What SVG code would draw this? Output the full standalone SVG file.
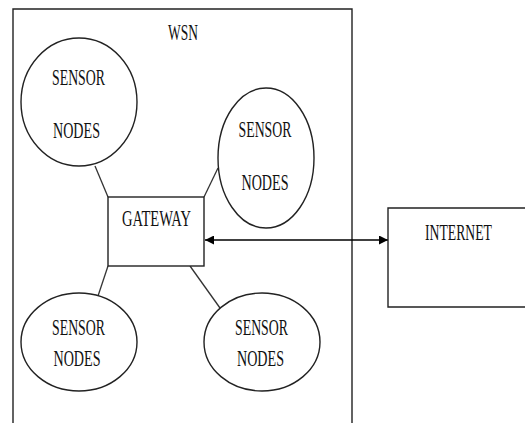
<svg xmlns="http://www.w3.org/2000/svg" width="525" height="423" viewBox="0 0 525 423">
<defs>
<style>
.t{font-family:"Liberation Serif","Times New Roman",serif;font-size:23px;fill:#111;text-anchor:middle}
.s{fill:#fff;stroke:#222;stroke-width:1.4}
.o{fill:none;stroke:#222;stroke-width:1.4}
.c{stroke:#333;stroke-width:1.3;fill:none}
</style>
<marker id="ah" viewBox="0 0 10 10" refX="10" refY="5" markerWidth="9" markerHeight="9" markerUnits="userSpaceOnUse" orient="auto-start-reverse">
<path d="M0,0 L10,5 L0,10 z" fill="#000"/>
</marker>
</defs>
<rect width="525" height="423" fill="#fff"/>
<g id="wsn">
<path d="M13,423 L13,9 L352,9 L352,423" class="o"/>
<text class="t" x="183" y="40" textLength="30" lengthAdjust="spacingAndGlyphs">WSN</text>
</g>
<g id="connectors">
<line class="c" x1="95" y1="166" x2="108" y2="197"/>
<line class="c" x1="218" y1="168" x2="204" y2="197"/>
<line class="c" x1="108" y1="266" x2="98" y2="296"/>
<line class="c" x1="190" y1="266" x2="220" y2="308"/>
<line x1="205" y1="240" x2="388" y2="240" stroke="#000" stroke-width="1.5" marker-start="url(#ah)" marker-end="url(#ah)"/>
</g>
<g id="sensor1">
<ellipse class="s" cx="79" cy="102" rx="58" ry="64"/>
<text class="t" x="78.5" y="85" textLength="53" lengthAdjust="spacingAndGlyphs">SENSOR</text>
<text class="t" x="76.5" y="138" textLength="47" lengthAdjust="spacingAndGlyphs">NODES</text>
</g>
<g id="sensor2">
<ellipse class="s" cx="266" cy="158" rx="48" ry="70"/>
<text class="t" x="265" y="137" textLength="53" lengthAdjust="spacingAndGlyphs">SENSOR</text>
<text class="t" x="265" y="190" textLength="47" lengthAdjust="spacingAndGlyphs">NODES</text>
</g>
<g id="sensor3">
<ellipse class="s" cx="79" cy="342" rx="58" ry="49"/>
<text class="t" x="78.5" y="335" textLength="53" lengthAdjust="spacingAndGlyphs">SENSOR</text>
<text class="t" x="77" y="366" textLength="47" lengthAdjust="spacingAndGlyphs">NODES</text>
</g>
<g id="sensor4">
<ellipse class="s" cx="262" cy="342" rx="58" ry="49"/>
<text class="t" x="261.5" y="335" textLength="53" lengthAdjust="spacingAndGlyphs">SENSOR</text>
<text class="t" x="260.5" y="366" textLength="47" lengthAdjust="spacingAndGlyphs">NODES</text>
</g>
<g id="gateway">
<rect class="s" x="108" y="197" width="96" height="69"/>
<text class="t" x="156.5" y="226" textLength="69" lengthAdjust="spacingAndGlyphs">GATEWAY</text>
</g>
<g id="internet">
<path class="o" d="M525,208 L388,208 L388,307 L525,307"/>
<text class="t" x="458.5" y="240" textLength="67" lengthAdjust="spacingAndGlyphs">INTERNET</text>
</g>
</svg>
